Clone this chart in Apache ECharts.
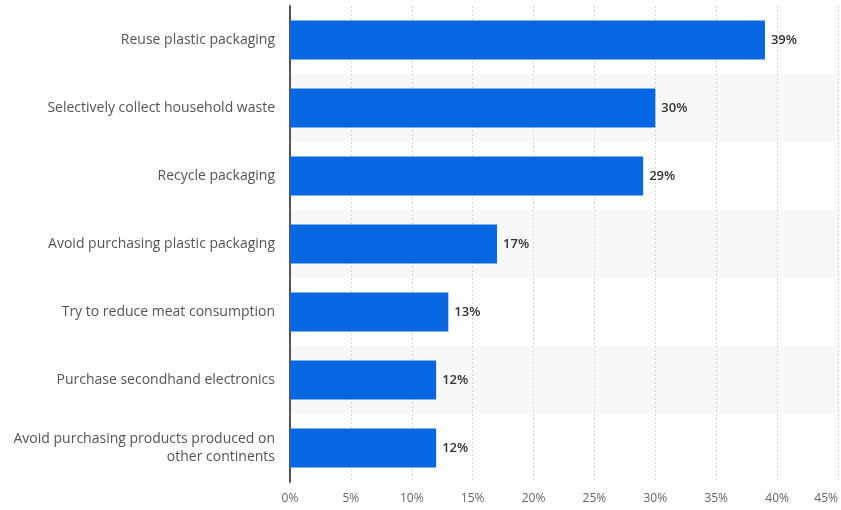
<!DOCTYPE html>
<html>
<head>
<meta charset="utf-8">
<script src="https://cdn.jsdelivr.net/npm/echarts@6/dist/echarts.min.js"></script>
<style>
  html, body { margin: 0; padding: 0; background: #fff; }
  #grafico { width: 841px; height: 510px; }
</style>
</head>
<body>
<div id="grafico"></div>
<script>
var categorias = [
  'Reuse plastic packaging',
  'Selectively collect household waste',
  'Recycle packaging',
  'Avoid purchasing plastic packaging',
  'Try to reduce meat consumption',
  'Purchase secondhand electronics',
  'Avoid purchasing products produced on\nother continents'
];
var valores = [39, 30, 29, 17, 13, 12, 12];
var ticksX = [0, 5, 10, 15, 20, 25, 30, 35, 40, 45];

var myChart = echarts.init(document.getElementById('grafico'));
var option = {
  animation: false,
  textStyle: { fontFamily: 'Open Sans' },
  grid: { left: 290, right: 1, top: 6, bottom: 28 },
  xAxis: {
    type: 'value',
    min: ticksX[0],
    max: ticksX[ticksX.length - 1],
    interval: 5,
    axisLine: { show: false },
    axisTick: { show: false },
    axisLabel: {
      color: '#666',
      fontSize: 12,
      margin: 11,
      alignMaxLabel: 'right',
      formatter: '{value}%'
    },
    splitLine: {
      show: true,
      lineStyle: { color: '#d8d8d8', type: [2, 2], width: 1 }
    }
  },
  yAxis: {
    type: 'category',
    inverse: true,
    data: categorias,
    axisLine: { show: true, lineStyle: { color: '#555', width: 2 } },
    axisTick: { show: false },
    axisLabel: {
      color: '#555',
      fontSize: 14,
      margin: 15,
      lineHeight: 18,
      align: 'right'
    },
    splitArea: {
      show: true,
      areaStyle: { color: ['#ffffff', '#f8f8f8'] }
    }
  },
  series: [
    {
      type: 'bar',
      data: valores,
      barWidth: '57%',
      itemStyle: { color: '#0766e1' },
      label: {
        show: true,
        position: 'right',
        distance: 6,
        color: '#333',
        fontSize: 13,
        fontWeight: 600,
        formatter: '{c}%'
      }
    }
  ]
};

myChart.setOption(option);
</script>
</body>
</html>
